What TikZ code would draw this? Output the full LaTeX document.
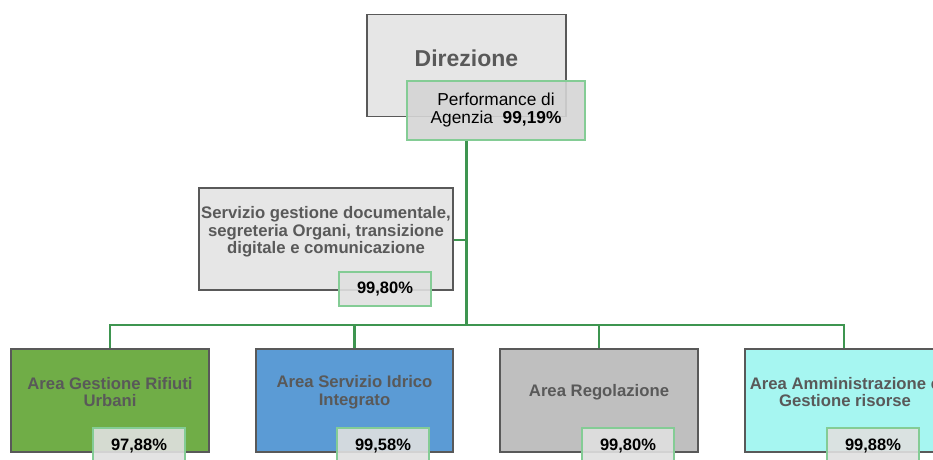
\documentclass[tikz,border=0pt]{standalone}
\usepackage{fontspec}
\setmainfont{Liberation Sans}
\definecolor{boxline}{HTML}{595959}
\definecolor{txtgray}{HTML}{595959}
\definecolor{lightbox}{HTML}{E6E6E6}
\definecolor{conn}{HTML}{3E9550}
\definecolor{pctline}{HTML}{84CC95}
\definecolor{pctfill}{HTML}{E0E0E0}
\definecolor{cgreen}{HTML}{70AD47}
\definecolor{cblue}{HTML}{5B9BD5}
\definecolor{cgray}{HTML}{BFBFBF}
\definecolor{ccyan}{HTML}{A6F6F1}
\tikzset{
  unitbox/.style={draw=boxline, line width=1.4pt, inner sep=0pt, rectangle},
  pctbox/.style={draw=pctline, line width=1.6pt, fill=pctfill, fill opacity=0.9, text opacity=1, inner sep=0pt, rectangle,
    font=\fontsize{16.5}{17.5}\selectfont\bfseries, text=black},
  unittext/.style={align=center, inner sep=0pt, text=txtgray, font=\fontsize{16.7}{17.5}\selectfont\bfseries},
  wire/.style={draw=conn, line width=2.1pt}
}
\begin{document}
\begin{tikzpicture}[x=1pt,y=-1pt]
\useasboundingbox (0,0) rectangle (933,459);
\clip (0,0) rectangle (933,459);
% Direzione
\node[unitbox, fill=lightbox, minimum width=199pt, minimum height=102pt] (dir) at (466.5,65.5) {};
\node[unittext, font=\fontsize{23}{24}\selectfont\bfseries] (dirt) at (466.5,58) {Direzione};
\node[pctbox, fill=pctfill!95!black, fill opacity=0.9, minimum width=178pt, minimum height=59pt] (perf) at (496,110.5) {};
\node[align=center, inner sep=0pt, text=black, font=\fontsize{17.3}{18}\selectfont] (perft) at (496,110) {Performance di\\Agenzia~~{\bfseries 99,19\%}};
% Servizio
\node[unitbox, fill=lightbox, minimum width=254pt, minimum height=102pt] (serv) at (326,239) {};
\node[unittext] (servt) at (326,232) {Servizio gestione documentale,\\segreteria Organi, transizione\\digitale e comunicazione};
\node[pctbox, minimum width=92pt, minimum height=34pt] (servp) at (385,289) {99,80\%};
% bottom boxes
\node[unitbox, fill=cgreen, minimum width=198pt, minimum height=103pt] (b1) at (110,400.5) {};
\node[unittext] (b1t) at (110,392) {Area Gestione Rifiuti\\Urbani};
\node[pctbox, minimum width=92pt, minimum height=36pt] (p1) at (139,446) {97,88\%};
\node[unitbox, fill=cblue, minimum width=197pt, minimum height=103pt] (b2) at (354.5,400.5) {};
\node[unittext] (b2t) at (354.5,392) {Area Servizio Idrico\\Integrato};
\node[pctbox, minimum width=92pt, minimum height=36pt] (p2) at (383,446) {99,58\%};
\node[unitbox, fill=cgray, minimum width=198pt, minimum height=103pt] (b3) at (599,400.5) {};
\node[unittext] (b3t) at (599,392) {Area Regolazione};
\node[pctbox, minimum width=92pt, minimum height=36pt] (p3) at (628,446) {99,80\%};
\node[unitbox, fill=ccyan, minimum width=198pt, minimum height=103pt] (b4) at (844,400.5) {};
\node[unittext] (b4t) at (845,392) {Area Amministrazione e\\Gestione risorse};
\node[pctbox, minimum width=92pt, minimum height=36pt] (p4) at (873,446) {99,88\%};
% connectors
\coordinate (j) at (466.5,325);
\coordinate (js) at (466.5,240);
\draw[wire] (perf.south -| j) -- (j);
\draw[wire] (serv.east |- js) -- (js);
\draw[wire] (j) -| (b1.north);
\draw[wire] (j) -| (b2.north);
\draw[wire] (j) -| (b3.north);
\draw[wire] (j) -| (b4.north);
\end{tikzpicture}
\end{document}
